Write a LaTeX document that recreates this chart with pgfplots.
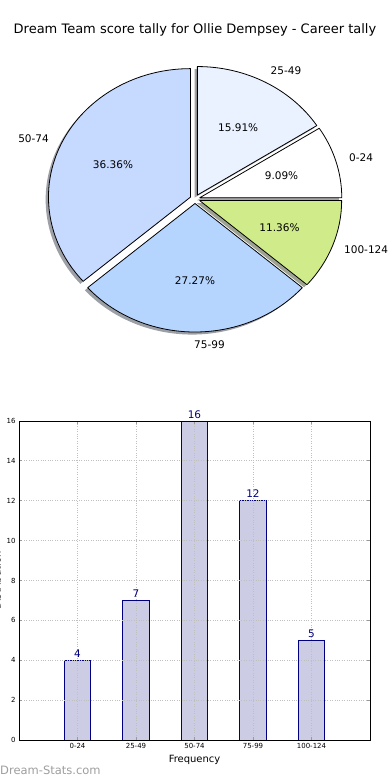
\documentclass[border=0pt]{standalone}
\usepackage{fontspec}
\setmainfont{DejaVu Sans}
\usepackage{pgfplots}
\pgfplotsset{compat=1.18}
\definecolor{cA}{HTML}{FFFFFF}
\definecolor{cB}{HTML}{EBF2FF}
\definecolor{cC}{HTML}{C6D9FF}
\definecolor{cD}{HTML}{B5D5FF}
\definecolor{cE}{HTML}{D0EB8A}
\definecolor{shA}{RGB}{166,166,166}
\definecolor{shB}{RGB}{163,164,166}
\definecolor{shC}{RGB}{157,160,166}
\definecolor{shD}{RGB}{155,159,166}
\definecolor{shE}{RGB}{159,163,148}
\definecolor{barc}{HTML}{CCCCE5}
\definecolor{navyc}{HTML}{000080}
\begin{document}
\begin{tikzpicture}
\useasboundingbox (0,0) rectangle (390bp,-780bp);
% ---------- pie (counts 4, 7, 16, 12, 5 of 44) ----------
\begin{axis}[at={(0,0)}, anchor=north west, x=1bp, y=1bp,
  xmin=0, xmax=390, ymin=-390, ymax=0, hide axis, clip=false]
% shadows
\fill[shA] (axis cs:196.93,-200.30) -- ++(0:142bp and 128.5bp) arc[start angle=0, end angle=32.727, x radius=142bp, y radius=128.5bp] -- cycle;
\fill[shB] (axis cs:194.54,-197.62) -- ++(32.727:142bp and 128.5bp) arc[start angle=32.727, end angle=90, x radius=142bp, y radius=128.5bp] -- cycle;
\fill[shC] (axis cs:187.64,-199.70) -- ++(90:142bp and 128.5bp) arc[start angle=90, end angle=220.909, x radius=142bp, y radius=128.5bp] -- cycle;
\fill[shD] (axis cs:192.16,-206.07) -- ++(220.909:142bp and 128.5bp) arc[start angle=220.909, end angle=319.091, x radius=142bp, y radius=128.5bp] -- cycle;
\fill[shE] (axis cs:196.82,-203.14) -- ++(319.091:142bp and 128.5bp) arc[start angle=319.091, end angle=360, x radius=142bp, y radius=128.5bp] -- cycle;
% wedges
\draw[fill=cA, line width=0.8bp, line join=round] (axis cs:199.77,-197.73) -- ++(0:142bp and 128.5bp) arc[start angle=0, end angle=32.727, x radius=142bp, y radius=128.5bp] -- cycle;
\draw[fill=cB, line width=0.8bp, line join=round] (axis cs:197.38,-195.05) -- ++(32.727:142bp and 128.5bp) arc[start angle=32.727, end angle=90, x radius=142bp, y radius=128.5bp] -- cycle;
\draw[fill=cC, line width=0.8bp, line join=round] (axis cs:190.48,-197.13) -- ++(90:142bp and 128.5bp) arc[start angle=90, end angle=220.909, x radius=142bp, y radius=128.5bp] -- cycle;
\draw[fill=cD, line width=0.8bp, line join=round] (axis cs:195.00,-203.50) -- ++(220.909:142bp and 128.5bp) arc[start angle=220.909, end angle=319.091, x radius=142bp, y radius=128.5bp] -- cycle;
\draw[fill=cE, line width=0.8bp, line join=round] (axis cs:199.66,-200.57) -- ++(319.091:142bp and 128.5bp) arc[start angle=319.091, end angle=360, x radius=142bp, y radius=128.5bp] -- cycle;
% percentages
\begin{scope}[every node/.style={font=\fontsize{10.5bp}{12bp}\selectfont, inner sep=0pt}]
\node at (axis cs:281.5,-176.0) {9.09\%};
\node at (axis cs:238.2,-127.4) {15.91\%};
\node at (axis cs:113.0,-165.1) {36.36\%};
\node at (axis cs:195.0,-280.6) {27.27\%};
\node at (axis cs:279.5,-227.5) {11.36\%};
\node[anchor=west] at (axis cs:349.0,-157.9) {0-24};
\node[anchor=west] at (axis cs:270.5,-71.0) {25-49};
\node[anchor=east] at (axis cs:49.0,-138.4) {50-74};
\node[anchor=west] at (axis cs:194.0,-344.9) {75-99};
\node[anchor=west] at (axis cs:344.0,-250.0) {100-124};
\end{scope}
\node[font=\fontsize{13bp}{15bp}\selectfont, inner sep=0pt] at (axis cs:195,-30) {Dream Team score tally for Ollie Dempsey - Career tally};
\node[font=\fontsize{11.5bp}{13bp}\selectfont, text=black!38, anchor=west, inner sep=0pt] at (axis cs:0,-770) {Dream-Stats.com};
\end{axis}
% ---------- bars ----------
\begin{axis}[at={(19bp,-421bp)}, anchor=north west, scale only axis,
  width=351bp, height=319bp,
  xmin=-1, xmax=5, ymin=0, ymax=16,
  ybar, bar width=0.45,
  xtick={0,1,2,3,4}, xticklabels={0-24,25-49,50-74,75-99,100-124},
  ytick={0,2,4,6,8,10,12,14,16},
  grid=major, major grid style={dotted, color=black!25, line width=1bp},
  axis on top, tick align=inside, major tick length=3bp,
  every tick/.style={black!40, line width=0.8bp},
  axis line style={black, line width=0.8bp},
  tick label style={font=\fontsize{7}{8}\selectfont},
  /pgf/number format/assume math mode=true,
  xlabel={Frequency},
  xlabel style={font=\fontsize{10}{12}\selectfont, at={(axis description cs:0.5,0)}, anchor=center, yshift=-20bp},
  ylabel={Distribution},
  ylabel style={font=\fontsize{10}{12}\selectfont, at={(axis description cs:-0.063,0.5)}, anchor=center, rotate=0},
  nodes near coords,
  nodes near coords style={font=\fontsize{10.5}{12}\selectfont, text=navyc, inner sep=2.5bp},
]
\addplot[fill=barc, draw=navyc, line width=0.7bp] coordinates {(0,4) (1,7) (2,16) (3,12) (4,5)};
\end{axis}
\end{tikzpicture}
\end{document}
